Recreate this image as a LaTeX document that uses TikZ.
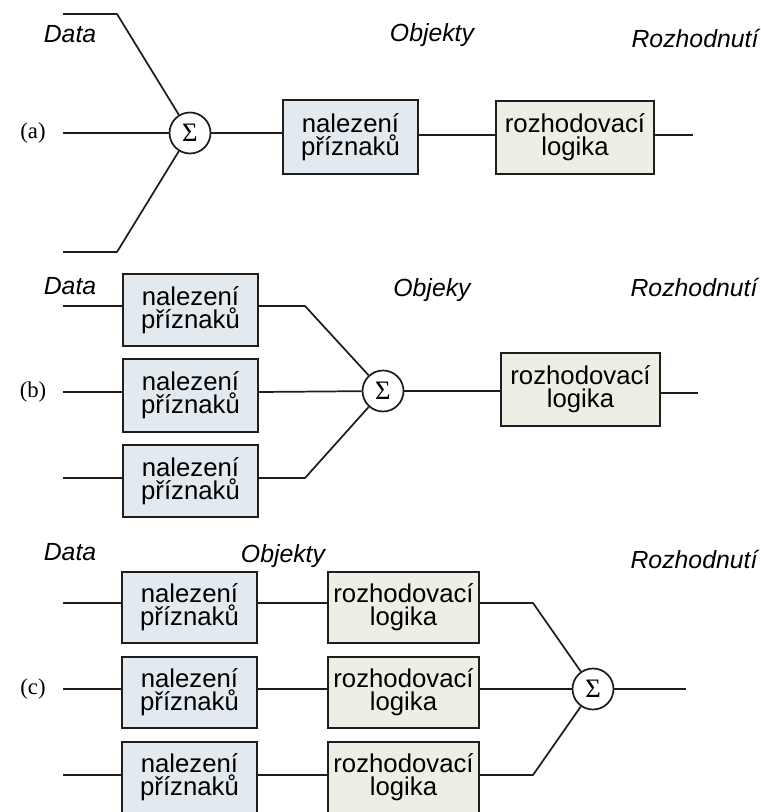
\documentclass[tikz,border=0pt]{standalone}
\usepackage{fontspec}
\setmainfont{Liberation Sans}
\newfontfamily\tagfont{Liberation Serif}
\definecolor{featfill}{HTML}{E2EAF0}
\definecolor{logicfill}{HTML}{EEEEE4}
\definecolor{ink}{HTML}{1E1E1E}
\begin{document}
\begin{tikzpicture}[x=0.75pt,y=-0.75pt,
  wire/.style={draw=ink,line width=1.3pt,line join=round},
  blockbox/.style={draw=ink,line width=1.6pt,inner sep=0pt,align=center,
    font=\fontsize{19.3}{17.2}\selectfont},
  featbox/.style={blockbox,fill=featfill},
  logicbox/.style={blockbox,fill=logicfill},
  sumnode/.style={circle,draw=ink,line width=1.3pt,fill=white,inner sep=0pt,
    minimum size=41*0.75pt,font=\tagfont\fontsize{20}{20}\selectfont},
  head/.style={anchor=base,font=\itshape\fontsize{18.6}{20}\selectfont},
  tag/.style={font=\tagfont\fontsize{17}{17}\selectfont}
]
\useasboundingbox (0,0) rectangle (760,812);

% ---------------- (a) sum, then features, then decision
\node[head] (dataA) at (70,43) {Data};
\node[head] (objA) at (432,42) {Objekty};
\node[head] (decA) at (695,48) {Rozhodnutí};
\node[tag] (tagA) at (33,133) {(a)};

\node[sumnode] (sa) at (190,133) {Σ};
\node[featbox,minimum width=135*0.75pt,minimum height=74*0.75pt] (fa) at (350.5,137) {nalezení\\příznaků};
\node[logicbox,minimum width=158*0.75pt,minimum height=73*0.75pt] (da) at (575,137.5) {rozhodovací\\logika};

\coordinate (a1) at (63,14);  \coordinate (a1k) at (117,14);
\coordinate (a2) at (63,133);
\coordinate (a3) at (63,252); \coordinate (a3k) at (117,252);
\coordinate (aout) at (693,135);

\draw[wire] (a1) -- (a1k) -- (sa);
\draw[wire] (a2) -- (sa);
\draw[wire] (a3) -- (a3k) -- (sa);
\draw[wire] (sa.east) -- (sa.east -| fa.west);
\draw[wire] (fa.east |- aout) -- (da.west |- aout);
\draw[wire] (da.east |- aout) -- (aout);

% ---------------- (b) features, then sum, then decision
\node[head] (dataB) at (70,295) {Data};
\node[head] (objB) at (432,297) {Objeky};
\node[head] (decB) at (694,297) {Rozhodnutí};
\node[tag] (tagB) at (33,392) {(b)};

\node[featbox,minimum width=135*0.75pt,minimum height=72*0.75pt] (fb1) at (190.5,310) {nalezení\\příznaků};
\node[featbox,minimum width=135*0.75pt,minimum height=73*0.75pt] (fb2) at (190.5,395.5) {nalezení\\příznaků};
\node[featbox,minimum width=135*0.75pt,minimum height=72*0.75pt] (fb3) at (190.5,481) {nalezení\\příznaků};
\node[sumnode] (sb) at (383,391) {Σ};
\node[logicbox,minimum width=159*0.75pt,minimum height=73*0.75pt] (db) at (580.5,389.5) {rozhodovací\\logika};

\coordinate (b1) at (63,306);  \coordinate (b1k) at (305,306);
\coordinate (b2) at (63,392);
\coordinate (b3) at (63,478);  \coordinate (b3k) at (305,478);
\coordinate (bout) at (698,393);

\draw[wire] (b1) -- (b1 -| fb1.west);
\draw[wire] (b2) -- (b2 -| fb2.west);
\draw[wire] (b3) -- (b3 -| fb3.west);
\draw[wire] (b1 -| fb1.east) -- (b1k) -- (sb);
\draw[wire] (b2 -| fb2.east) -- (sb);
\draw[wire] (b3 -| fb3.east) -- (b3k) -- (sb);
\draw[wire] (sb.east) -- (sb.east -| db.west);
\draw[wire] (db.east |- bout) -- (bout);

% ---------------- (c) features, decisions, then sum
\node[head] (dataC) at (70,560) {Data};
\node[head] (objC) at (283,562) {Objekty};
\node[head] (decC) at (694,568) {Rozhodnutí};
\node[tag] (tagC) at (33,689) {(c)};

\node[featbox,minimum width=135*0.75pt,minimum height=71*0.75pt] (fc1) at (189.5,607.5) {nalezení\\příznaků};
\node[featbox,minimum width=135*0.75pt,minimum height=71*0.75pt] (fc2) at (189.5,692.5) {nalezení\\příznaků};
\node[featbox,minimum width=135*0.75pt,minimum height=71*0.75pt] (fc3) at (189.5,777.5) {nalezení\\příznaků};
\node[logicbox,minimum width=151*0.75pt,minimum height=71*0.75pt] (dc1) at (403.5,607.5) {rozhodovací\\logika};
\node[logicbox,minimum width=151*0.75pt,minimum height=71*0.75pt] (dc2) at (403.5,692.5) {rozhodovací\\logika};
\node[logicbox,minimum width=151*0.75pt,minimum height=71*0.75pt] (dc3) at (403.5,777.5) {rozhodovací\\logika};
\node[sumnode] (sc) at (593,689) {Σ};

\coordinate (c1) at (63,603);  \coordinate (c1k) at (533,603);
\coordinate (c2) at (63,689);
\coordinate (c3) at (63,775);  \coordinate (c3k) at (533,775);
\coordinate (cout) at (686,689);

\draw[wire] (c1) -- (c1 -| fc1.west);
\draw[wire] (c2) -- (c2 -| fc2.west);
\draw[wire] (c3) -- (c3 -| fc3.west);
\draw[wire] (c1 -| fc1.east) -- (c1 -| dc1.west);
\draw[wire] (c2 -| fc2.east) -- (c2 -| dc2.west);
\draw[wire] (c3 -| fc3.east) -- (c3 -| dc3.west);
\draw[wire] (c1 -| dc1.east) -- (c1k) -- (sc);
\draw[wire] (c2 -| dc2.east) -- (sc);
\draw[wire] (c3 -| dc3.east) -- (c3k) -- (sc);
\draw[wire] (sc.east) -- (cout);
\end{tikzpicture}
\end{document}
